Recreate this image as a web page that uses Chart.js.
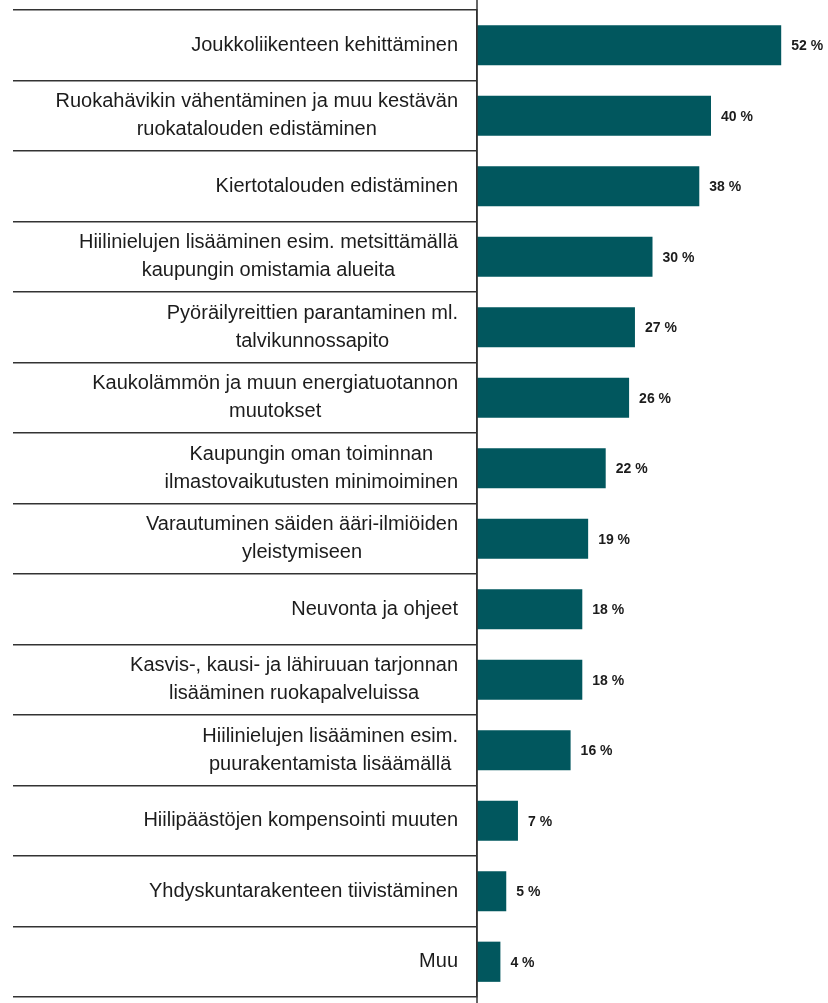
<!DOCTYPE html>
<html>
<head>
<meta charset="utf-8">
<script src="https://cdn.jsdelivr.net/npm/chart.js@4"></script>
<style>
  body { margin: 0; background: #fff; }
  #wrap { width: 828px; height: 1003px; }
</style>
</head>
<body>
<div id="wrap"><canvas id="myChart"></canvas></div>
<script>
const categories = [
  ["Joukkoliikenteen kehittäminen"],
  ["Ruokahävikin vähentäminen ja muu kestävän", "ruokatalouden edistäminen"],
  ["Kiertotalouden edistäminen"],
  ["Hiilinielujen lisääminen esim. metsittämällä", "kaupungin omistamia alueita"],
  ["Pyöräilyreittien parantaminen ml.", "talvikunnossapito"],
  ["Kaukolämmön ja muun energiatuotannon", "muutokset"],
  ["Kaupungin oman toiminnan", "ilmastovaikutusten minimoiminen"],
  ["Varautuminen säiden ääri-ilmiöiden", "yleistymiseen"],
  ["Neuvonta ja ohjeet"],
  ["Kasvis-, kausi- ja lähiruuan tarjonnan", "lisääminen ruokapalveluissa"],
  ["Hiilinielujen lisääminen esim.", "puurakentamista lisäämällä"],
  ["Hiilipäästöjen kompensointi muuten"],
  ["Yhdyskuntarakenteen tiivistäminen"],
  ["Muu"]
];
const values = [52, 40, 38, 30, 27, 26, 22, 19, 18, 18, 16, 7, 5, 4];
const valueLabels = values.map((v) => v + " %");

const labelFont = "20px 'Liberation Sans', sans-serif";
const valueFont = "bold 14px 'Liberation Sans', sans-serif";

// category labels: block right-aligned, lines centred inside the block
const labelPlugin = {
  id: "labels",
  afterDraw(chart) {
    const ctx = chart.ctx;
    const y = chart.scales.y;
    const right = chart.chartArea.left - 19;
    ctx.save();
    ctx.font = labelFont;
    ctx.fillStyle = "#1c1c1c";
    ctx.textAlign = "center";
    ctx.textBaseline = "middle";
    categories.forEach((lines, i) => {
      const cy = y.getPixelForValue(i);
      const w = Math.max(...lines.map((l) => ctx.measureText(l).width));
      const cx = right - w / 2;
      const lh = 28;
      lines.forEach((l, j) => {
        ctx.fillText(l, cx, cy + (j - (lines.length - 1) / 2) * lh);
      });
    });
    // value labels
    ctx.font = valueFont;
    ctx.textAlign = "left";
    const meta = chart.getDatasetMeta(0);
    meta.data.forEach((bar, i) => {
      ctx.fillText(valueLabels[i], bar.x + 10, bar.y + 1);
    });
    // axis line running full height
    ctx.strokeStyle = "#333";
    ctx.lineWidth = 1.5;
    ctx.beginPath();
    ctx.moveTo(chart.chartArea.left, 0);
    ctx.lineTo(chart.chartArea.left, chart.height);
    ctx.stroke();
    ctx.restore();
  }
};

const ctx = document.getElementById("myChart").getContext("2d");
const myChart = new Chart(ctx, {
  type: "bar",
  data: {
    labels: categories,
    datasets: [
      {
        data: values,
        backgroundColor: "#01575e",
        categoryPercentage: 1,
        barPercentage: 0.57,
      },
    ],
  },
  plugins: [labelPlugin],
  options: {
    indexAxis: "y",
    responsive: true,
    maintainAspectRatio: false,
    animation: false,
    layout: { padding: { left: 13, top: 10, bottom: 6, right: 0 } },
    plugins: {
      legend: { display: false },
      tooltip: { enabled: false },
    },
    scales: {
      x: {
        display: false,
        min: 0,
        max: 60,
      },
      y: {
        ticks: { display: false },
        grid: {
          offset: true,
          drawOnChartArea: false,
          drawTicks: true,
          tickLength: 464,
          color: "#333",
          lineWidth: 1.5,
        },
        border: { display: true, color: "#333", width: 1.5 },
      },
    },
  },
});
</script>
</body>
</html>
